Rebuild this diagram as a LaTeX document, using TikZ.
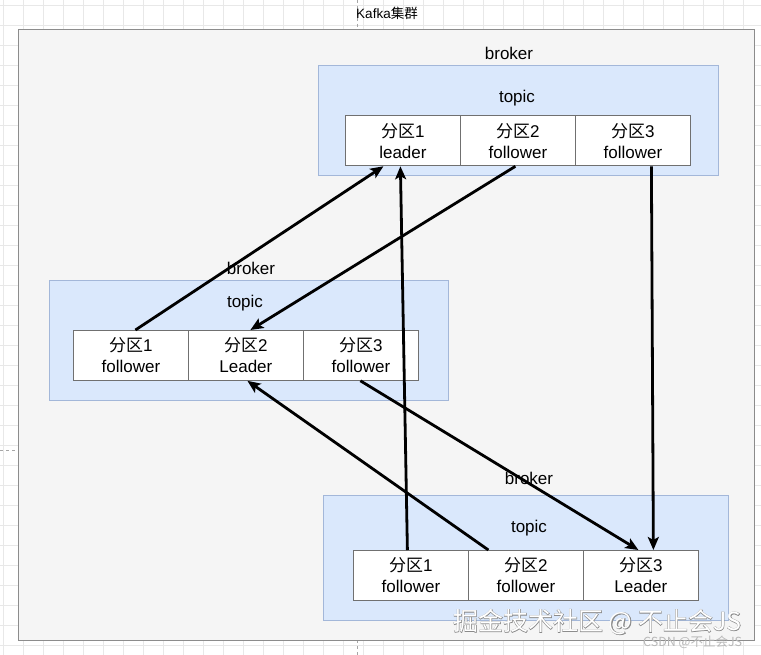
\documentclass[tikz,border=0pt]{standalone}
\usepackage{fontspec}
\setmainfont{Liberation Sans}
\newfontfamily\cjk{Noto Sans CJK SC}
\newfontfamily\cjkbold[FakeBold=3]{Noto Sans CJK SC}
\usetikzlibrary{arrows.meta,calc}
\definecolor{gridc}{HTML}{E8E8E8}
\definecolor{framefill}{HTML}{F5F5F5}
\definecolor{framedraw}{HTML}{8C8C8C}
\definecolor{brokerfill}{HTML}{DAE8FC}
\definecolor{brokerdraw}{HTML}{A3B7D9}
\definecolor{celldraw}{HTML}{707070}
\definecolor{wmgray}{HTML}{8A8A8A}
\tikzset{
  gridline/.style={draw=gridc, line width=0.6pt},
  pagebreak/.style={draw=gray!70, line width=0.6pt, dash pattern=on 3pt off 3pt},
  framebox/.style={draw=framedraw, fill=framefill, line width=1pt},
  brokerbox/.style={draw=brokerdraw, fill=brokerfill, line width=0.9pt},
  cell/.style={draw=celldraw, fill=white, line width=0.8pt, minimum width=115pt,
    minimum height=50pt, inner sep=0pt, anchor=north west, align=center,
    font=\fontsize{17}{21}\selectfont},
  lbl/.style={inner sep=0pt, font=\fontsize{17}{20}\selectfont},
  title/.style={inner sep=0pt, font=\fontsize{13.5}{16}\selectfont},
  conn/.style={line width=2.8pt, -{Stealth[length=13pt,width=11pt,inset=3pt]}},
  wmbig/.style={inner sep=0pt, anchor=west, font=\cjk\fontsize{25}{28}\selectfont},
  wmshade/.style={inner sep=0pt, anchor=west, text=wmgray, font=\cjkbold\fontsize{25}{28}\selectfont},
  wmsmall/.style={inner sep=0pt, anchor=west, text=gray!55, font=\cjk\fontsize{12.5}{14}\selectfont}
}
\begin{document}
\begin{tikzpicture}[x=1pt,y=-1pt]
\useasboundingbox (0,0) rectangle (761,655);
\fill[white] (0,0) rectangle (761,655);
% background grid
\foreach \gx in {3,23,...,763} \draw[gridline] (\gx,0) -- (\gx,655);
\foreach \gy in {5,25,...,655} \draw[gridline] (0,\gy) -- (761,\gy);
\draw[pagebreak] (357,0) -- (357,30);
\draw[pagebreak] (357,640) -- (357,655);
\draw[pagebreak] (0,450) -- (18,450);
% cluster frame
\node[title] (cluster) at (387,13) {Kafka{\cjk 集群}};
\draw[framebox] (18,30) rectangle (754,640);
% brokers
\draw[brokerbox] (318,65) rectangle (718,175);
\draw[brokerbox] (49,280) rectangle (448,400);
\draw[brokerbox] (323,495) rectangle (728,620);
\node[lbl] (brokerT) at (509,53) {broker};
\node[lbl] (topicT) at (517,98) {topic};
\node[lbl] (brokerM) at (251,268) {broker};
\node[lbl] (topicM) at (245,303) {topic};
\node[lbl] (brokerB) at (529,478) {broker};
\node[lbl] (topicB) at (529,528) {topic};
% partitions
\node[cell] (t1) at (345,115.5) {{\cjk 分区}1\\leader};
\node[cell] (t2) at (460,115.5) {{\cjk 分区}2\\follower};
\node[cell] (t3) at (575,115.5) {{\cjk 分区}3\\follower};
\node[cell] (m1) at (73,330) {{\cjk 分区}1\\follower};
\node[cell] (m2) at (188,330) {{\cjk 分区}2\\Leader};
\node[cell] (m3) at (303,330) {{\cjk 分区}3\\follower};
\node[cell] (b1) at (353,550) {{\cjk 分区}1\\follower};
\node[cell] (b2) at (468,550) {{\cjk 分区}2\\follower};
\node[cell] (b3) at (583,550) {{\cjk 分区}3\\Leader};
% replication arrows
\draw[conn] ($(m1.north)+(4.5,0)$) -- ($(t1.south)+(-19.5,0)$);
\draw[conn] ($(b1.north)+(-3.5,0)$) -- ($(t1.south)+(-2.5,0)$);
\draw[conn] ($(t2.south)+(-2.5,0)$) -- ($(m2.north)+(4.5,0)$);
\draw[conn] ($(t3.south)+(18.5,0)$) -- ($(b3.north)+(12.5,0)$);
\draw[conn] ($(b2.north)+(-37.5,0)$) -- ($(m2.south)+(1.5,0)$);
\draw[conn] ($(m3.south)+(-0.5,0)$) -- ($(b3.north)+(-2.5,0)$);
% watermarks
\node[wmshade] (wmshadow) at (453,622) {掘金技术社区 @ 不止会JS};
\node[wmbig, text=white] (wm) at (453,622) {掘金技术社区 @ 不止会JS};
\node[wmsmall] (wmcsdn) at (643,642) {CSDN @不止会JS};
\end{tikzpicture}
\end{document}
